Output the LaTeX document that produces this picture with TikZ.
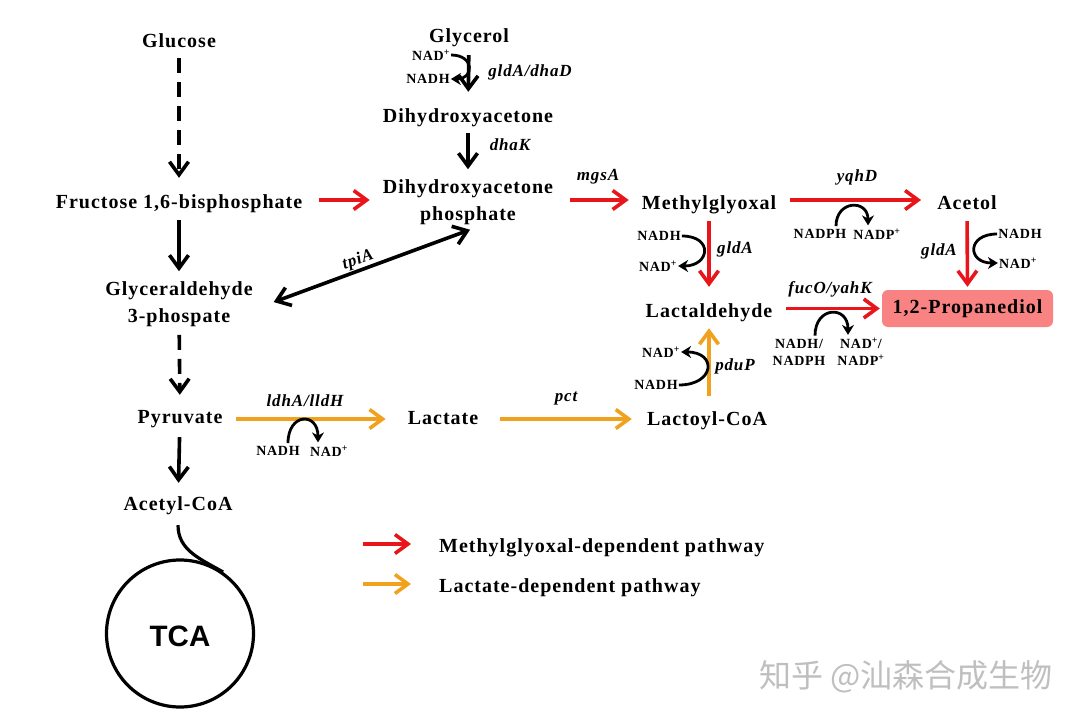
\documentclass[tikz,border=0pt]{standalone}
\usepackage{fontspec}
\setmainfont[LetterSpace=5]{Liberation Serif}
\newfontfamily\tcafont{Liberation Sans}
\newfontfamily\cjk{Noto Sans CJK SC}
\usetikzlibrary{arrows.meta,calc}
\definecolor{mgred}{HTML}{E8151B}
\definecolor{laorange}{HTML}{F0A21E}
\definecolor{boxred}{HTML}{F98382}
\tikzset{
  metabtwo/.style={font=\fontsize{20}{27}\selectfont\bfseries,align=center,inner sep=2pt},
  metab/.style={metabtwo,text height=14pt,text depth=4pt},
  cof/.style={font=\fontsize{14}{17}\selectfont\bfseries,align=center,inner sep=1pt},
  gene/.style={font=\fontsize{17}{18}\selectfont\bfseries\itshape,inner sep=1pt},
  barb/.tip={Straight Barb[length=13pt,width=19pt,line width=3.6pt]},
  flux/.style={line width=3.6pt,-barb},
  redflux/.style={flux,draw=mgred},
  orflux/.style={flux,draw=laorange},
  curl/.style={line width=2.8pt,-{Stealth[length=10pt,width=12pt]}},
}
\begin{document}
\begin{tikzpicture}[x=1pt,y=-1pt]
  \useasboundingbox (0,0) rectangle (1080,720);
  % metabolites
  \node[metab] (glucose) at (179,42) {Glucose};
  \node[metab] (fbp) at (179,203) {Fructose 1,6-bisphosphate};
  \node[metabtwo] (g3p) at (179,304) {Glyceraldehyde\\3-phospate};
  \node[metab] (pyruvate) at (180,418) {Pyruvate};
  \node[metab] (accoa) at (178,505) {Acetyl-CoA};
  \node[metab] (glycerol) at (469,37) {Glycerol};
  \node[metab] (dha) at (468,117) {Dihydroxyacetone};
  \node[metabtwo] (dhap) at (468,202) {Dihydroxyacetone\\phosphate};
  \node[metab] (mgo) at (709,204) {Methylglyoxal};
  \node[metab] (acetol) at (967,204) {Acetol};
  \node[metab] (lald) at (709,312) {Lactaldehyde};
  \node[metab] (lcoa) at (707,420) {Lactoyl-CoA};
  \node[metab] (lactate) at (443,419) {Lactate};
  \node[metab,fill=boxred,rounded corners=6pt,minimum width=171pt,minimum height=37pt] (pdo) at (967.5,308.5) {1,2-Propanediol};
  \node[draw,circle,line width=3.2pt,minimum size=147pt,inner sep=0pt,font=\fontsize{29.5}{34}\selectfont\bfseries\tcafont] (tca) at (180,633.5) {\raisebox{-12.5pt}[0pt][0pt]{TCA}};
  % cofactors
  \node[cof] (nadA) at (431,55) {NAD\textsuperscript{+}};
  \node[cof] (nadhA) at (428,79) {NADH};
  \node[cof] (nadhB) at (659,236) {NADH};
  \node[cof] (nadB) at (658,266) {NAD\textsuperscript{+}};
  \node[cof] (nadphC) at (820,234) {NADPH};
  \node[cof] (nadpC) at (877,234) {NADP\textsuperscript{+}};
  \node[cof] (nadhD) at (1020,234) {NADH};
  \node[cof] (nadD) at (1018,263) {NAD\textsuperscript{+}};
  \node[cof] (nadhE) at (799,352) {NADH/\\NADPH};
  \node[cof] (nadE) at (861,352) {NAD\textsuperscript{+}/\\NADP\textsuperscript{+}};
  \node[cof] (nadF) at (661,352) {NAD\textsuperscript{+}};
  \node[cof] (nadhF) at (656,385) {NADH};
  \node[cof] (nadhG) at (278,451) {NADH};
  \node[cof] (nadG) at (329,451) {NAD\textsuperscript{+}};
  % genes
  \node[gene] (gldadha) at (530,72) {gldA/dhaD};
  \node[gene] (dhak) at (510,145) {dhaK};
  \node[gene] (mgsa) at (598,177) {mgsA};
  \node[gene,rotate=19] (tpia) at (358,260) {tpiA};
  \node[gene] (yqhd) at (857,177) {yqhD};
  \node[gene] (gldaB) at (735,249) {gldA};
  \node[gene] (gldaD) at (939,251) {gldA};
  \node[gene] (fuco) at (830,289) {fucO/yahK};
  \node[gene] (pdup) at (735,366) {pduP};
  \node[gene] (ldha) at (305,401) {ldhA/lldH};
  \node[gene] (pct) at (566,399) {pct};
  \coordinate (dhapout) at ([yshift=2pt]dhap.east);
  % main pathway
  \begin{scope}[flux]
    \draw[dash pattern=on 15pt off 9pt,shorten <=5pt,shorten >=14pt] (glucose) -- (fbp);
    \draw[shorten <=6pt,shorten >=8pt] (fbp) -- (g3p);
    \draw[dash pattern=on 15pt off 9pt,shorten <=6pt,shorten >=12pt] (g3p) -- (pyruvate);
    \draw[shorten <=8pt,shorten >=11pt] (pyruvate) -- (accoa);
    \draw[shorten <=7pt,shorten >=14pt] (glycerol) -- (dha);
    \draw[shorten <=5pt,shorten >=8pt] (dha) -- (dhap);
    \draw[barb-barb,shorten <=20pt,shorten >=8.5pt] ([yshift=-5pt]g3p.east) -- ([xshift=10pt]dhap.south);
  \end{scope}
  \draw[line width=3.2pt] (accoa.south) ++(0,9) coordinate (tail) to[out=-90,in=150] (tca.55);
  \draw[redflux,shorten <=15pt,shorten >=11pt] (fbp.east |- dhapout) -- (dhap.west |- dhapout);
  \draw[redflux,shorten <=15pt,shorten >=11pt] (dhapout) -- (mgo.west |- dhapout);
  \draw[redflux,shorten <=12pt,shorten >=14pt] (mgo.east |- dhapout) -- (acetol.west |- dhapout);
  \draw[redflux,shorten <=6pt,shorten >=14pt] (mgo) -- (lald);
  \draw[redflux,shorten <=6pt,shorten >=3pt] (acetol) -- (pdo.north);
  \draw[redflux,shorten <=12pt,shorten >=2pt] (lald.east |- pdo.west) -- (pdo.west);
  \draw[orflux,shorten <=13pt,shorten >=5pt] (lald |- lcoa.north) -- (lald.south);
  \draw[orflux,shorten <=11pt,shorten >=20pt] (pyruvate.east |- lactate.west) -- (lactate.west);
  \draw[orflux,shorten <=20pt,shorten >=13pt] (lactate.east) -- (lcoa.west |- lactate.east);
  % cofactor curls
  \draw[curl] (nadA.east) to[out=0,in=0,looseness=2.5] (nadhA.east);
  \draw[curl] (nadhB.east) to[out=0,in=0,looseness=2.7] (nadB.east);
  \draw[curl] (nadphC.north) ++(16,-2) to[out=90,in=90,looseness=2.1] ($(nadpC.north)+(-9,-2)$);
  \draw[curl] (nadhD.west) to[out=180,in=180,looseness=2.7] (nadD.west);
  \draw[curl] (nadhE.north) ++(16,-2) to[out=90,in=90,looseness=2.3] ($(nadE.north)+(-13,-2)$);
  \draw[curl] (nadhF.east) to[out=0,in=0,looseness=2.8] (nadF.east);
  \draw[curl] (nadhG.north) ++(10,-2) to[out=90,in=90,looseness=2.6] ($(nadG.north)+(-11,-2)$);
  % legend
  \coordinate (legA) at (363,544);
  \coordinate (legB) at (411,544);
  \coordinate (legC) at (363,584);
  \coordinate (legD) at (411,584);
  \draw[redflux] (legA) -- (legB);
  \draw[orflux] (legC) -- (legD);
  \node[metab,anchor=west] (legred) at (437,547) {Methylglyoxal-dependent pathway};
  \node[metab,anchor=west] (legor) at (437,587) {Lactate-dependent pathway};
  % watermark
  \node[font=\fontsize{32}{34}\selectfont\cjk,text=black!25] (mark) at (906,677) {知乎 @汕森合成生物};
\end{tikzpicture}
\end{document}
